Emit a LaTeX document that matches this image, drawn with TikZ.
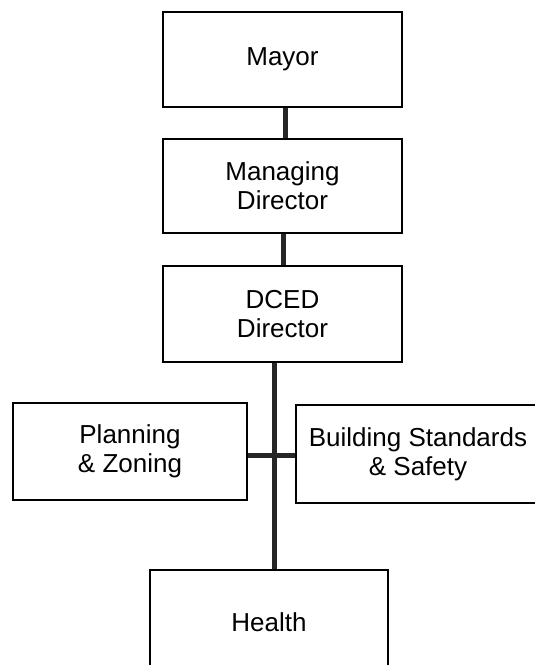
\documentclass[tikz,border=0pt]{standalone}
\usepackage{fontspec}
\setmainfont{Liberation Sans}
\begin{document}
\begin{tikzpicture}[x=1pt,y=-1pt,
  box/.style={draw=black,line width=1.8pt,inner sep=0pt,align=center,
    font=\fontsize{26}{29}\selectfont},
  conn/.style={draw=black!85,line width=5pt}]
\useasboundingbox (0,0) rectangle (535,665);
\node[box,minimum width=239pt,minimum height=95pt] (mayor) at (282.5,59.5) {Mayor};
\node[box,minimum width=239pt,minimum height=94pt] (md) at (282.5,186) {Managing\\Director};
\node[box,minimum width=239pt,minimum height=96pt] (dced) at (282.5,314) {DCED\\Director};
\node[box,minimum width=234pt,minimum height=97pt] (plan) at (130,451.5) {Planning\\\& Zoning};
\node[box,minimum width=244pt,minimum height=98pt] (bld) at (418,454) {Building Standards\\\& Safety};
\node[box,minimum width=238pt,minimum height=104pt] (health) at (269,622) {Health};
\coordinate (j) at (274,455);
\draw[conn] ([xshift=2.5pt]mayor.south) -- ([xshift=2.5pt]md.north);
\draw[conn] ([xshift=0.5pt]md.south) -- ([xshift=0.5pt]dced.north);
\draw[conn] (dced.south -| j) -- (health.north -| j);
\draw[conn] (plan.east |- j) -- (bld.west |- j);
\end{tikzpicture}
\end{document}
